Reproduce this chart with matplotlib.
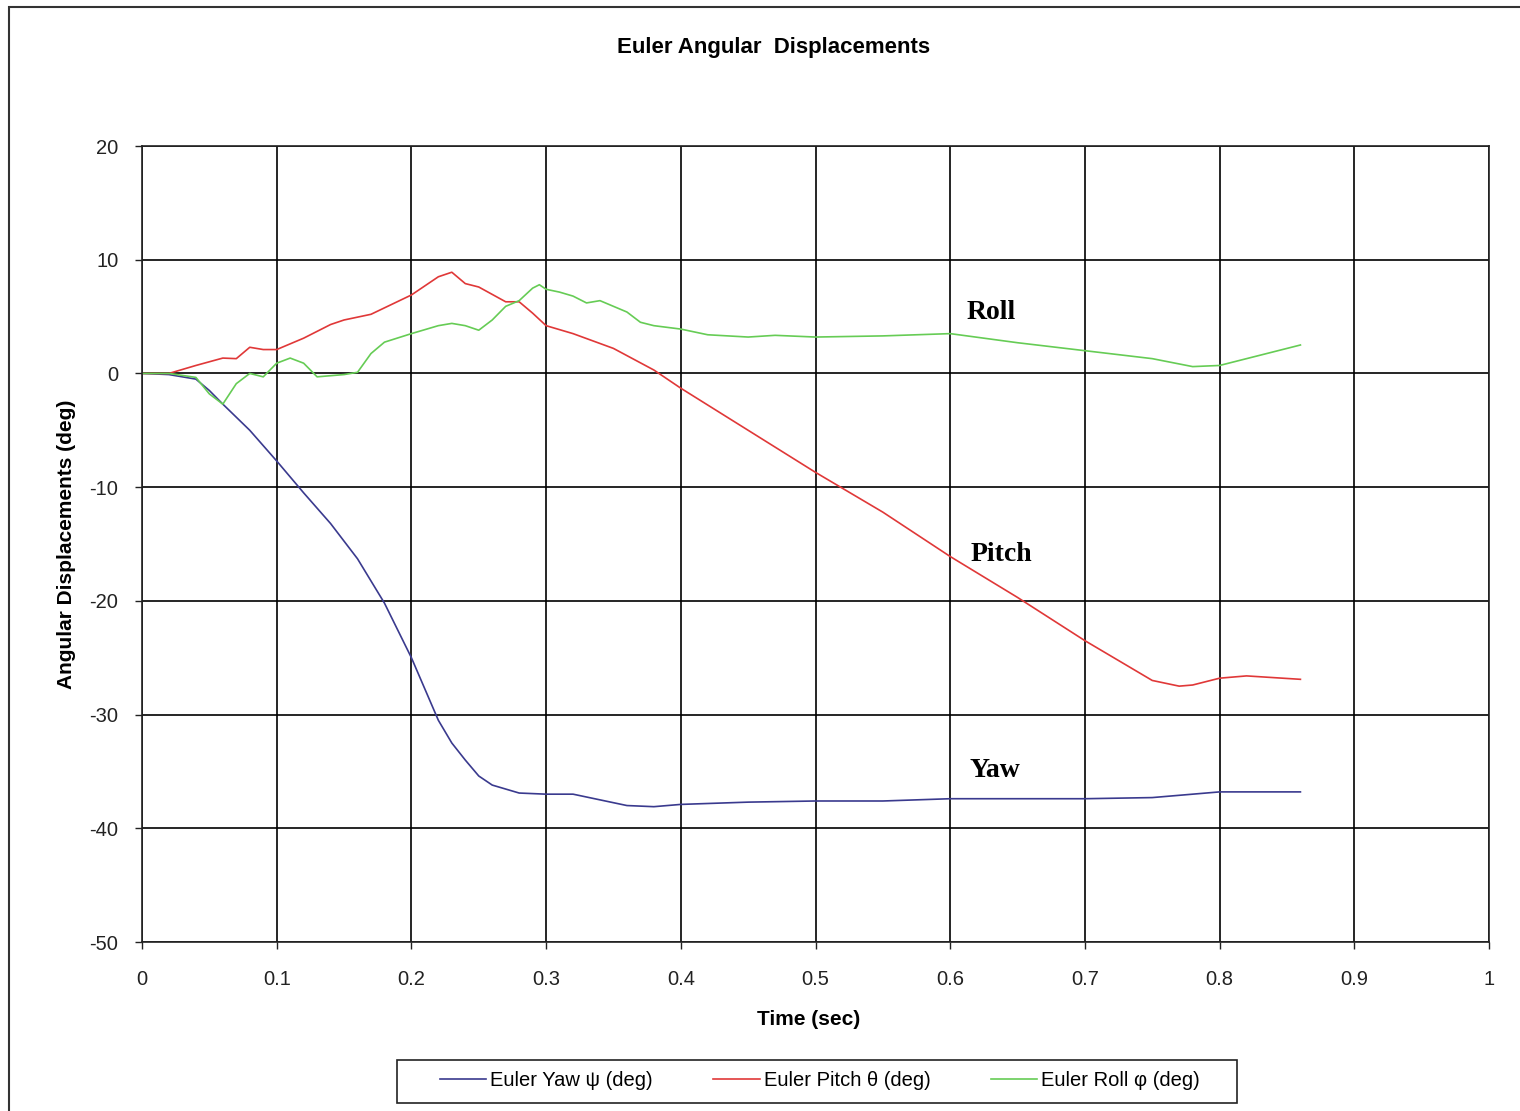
import matplotlib.pyplot as plt
from matplotlib.patches import Rectangle

plt.rcParams['font.family'] = ['Liberation Sans', 'DejaVu Sans']
plt.rcParams['axes.unicode_minus'] = False

# tiempos (s)
t_yaw = [0, 0.02, 0.04, 0.05, 0.06, 0.08, 0.10, 0.12, 0.14, 0.16, 0.18, 0.20,
         0.22, 0.23, 0.24, 0.25, 0.26, 0.28, 0.30, 0.32, 0.34, 0.36, 0.38, 0.40,
         0.45, 0.50, 0.55, 0.60, 0.65, 0.70, 0.75, 0.78, 0.80, 0.83, 0.86]
yaw = [0, -0.1, -0.5, -1.5, -2.7, -5.0, -7.7, -10.5, -13.2, -16.3, -20.2, -25.0,
       -30.5, -32.5, -34.0, -35.4, -36.2, -36.9, -37.0, -37.0, -37.5, -38.0, -38.1, -37.9,
       -37.7, -37.6, -37.6, -37.4, -37.4, -37.4, -37.3, -37.0, -36.8, -36.8, -36.8]

t_pitch = [0, 0.02, 0.04, 0.06, 0.07, 0.08, 0.09, 0.10, 0.12, 0.14, 0.15, 0.17,
           0.20, 0.22, 0.23, 0.24, 0.25, 0.27, 0.28, 0.29, 0.30, 0.32, 0.35, 0.38,
           0.40, 0.45, 0.50, 0.55, 0.60, 0.65, 0.70, 0.75, 0.77, 0.78, 0.80, 0.82, 0.86]
pitch = [0, 0, 0.7, 1.35, 1.3, 2.3, 2.1, 2.1, 3.1, 4.3, 4.7, 5.2,
         6.9, 8.5, 8.9, 7.9, 7.6, 6.3, 6.3, 5.3, 4.2, 3.5, 2.2, 0.3,
         -1.3, -5.0, -8.7, -12.2, -16.1, -19.7, -23.5, -27.0, -27.5, -27.4, -26.8, -26.6, -26.9]

t_roll = [0, 0.02, 0.04, 0.05, 0.06, 0.07, 0.08, 0.09, 0.10, 0.11, 0.12, 0.13,
          0.14, 0.15, 0.16, 0.17, 0.18, 0.20, 0.22, 0.23, 0.24, 0.25, 0.26, 0.27,
          0.28, 0.29, 0.295, 0.30, 0.31, 0.32, 0.33, 0.34, 0.36, 0.37, 0.38, 0.40,
          0.42, 0.45, 0.47, 0.50, 0.55, 0.60, 0.65, 0.70, 0.75, 0.78, 0.80, 0.82, 0.86]
roll = [0, 0, -0.35, -1.8, -2.7, -0.9, 0, -0.3, 0.9, 1.35, 0.9, -0.3,
        -0.2, -0.1, 0.1, 1.75, 2.75, 3.5, 4.2, 4.4, 4.2, 3.8, 4.7, 5.9,
        6.4, 7.5, 7.8, 7.4, 7.15, 6.8, 6.2, 6.4, 5.4, 4.5, 4.2, 3.9,
        3.4, 3.2, 3.35, 3.2, 3.3, 3.5, 2.7, 2.0, 1.3, 0.6, 0.7, 1.3, 2.5]

etiquetas = ["Euler Yaw ψ (deg)", "Euler Pitch θ (deg)", "Euler Roll φ (deg)"]
colores = ["#3a3a8e", "#e03838", "#66cc55"]

fig = plt.figure(figsize=(15.2, 11.11), dpi=100)
fig.patch.set_facecolor('white')
# marco exterior del grafico
fig.patches.append(Rectangle((9 / 1520, -0.01), 1.02, 1 - 7 / 1111 + 0.01,
                             transform=fig.transFigure, fill=False,
                             edgecolor='#333333', linewidth=1.5))

ax = fig.add_axes([142 / 1520, 1 - 942 / 1111, 1347 / 1520, 796 / 1111])
ax.plot(t_yaw, yaw, color=colores[0], lw=1.2, label=etiquetas[0])
ax.plot(t_pitch, pitch, color=colores[1], lw=1.2, label=etiquetas[1])
ax.plot(t_roll, roll, color=colores[2], lw=1.2, label=etiquetas[2])

ax.set_xlim(0, 1)
ax.set_ylim(-50, 20)
ax.set_xticks([0, 0.1, 0.2, 0.3, 0.4, 0.5, 0.6, 0.7, 0.8, 0.9, 1])
ax.set_xticklabels(['0', '0.1', '0.2', '0.3', '0.4', '0.5', '0.6', '0.7', '0.8', '0.9', '1'])
ax.set_yticks(range(-50, 21, 10))
ax.tick_params(direction='out', length=5, width=1, labelsize=14.5, colors='#222222')
ax.tick_params(axis='x', pad=15)
ax.tick_params(axis='y', pad=12)
ax.grid(True, color='black', lw=1.2)
for s in ax.spines.values():
    s.set_color('#222222')
    s.set_linewidth(1.2)

ax.set_xlabel("Time (sec)", fontsize=15, fontweight='bold', labelpad=14)
ax.xaxis.set_label_coords(0.495, -0.085)
ax.set_ylabel("Angular Displacements (deg)", fontsize=15, fontweight='bold', labelpad=10)
fig.text(774 / 1520, 1 - 47 / 1111, "Euler Angular  Displacements", fontsize=16,
         fontweight='bold', ha='center', va='center')

for txt, x, y in [("Roll", 0.612, 5.4), ("Pitch", 0.615, -15.9), ("Yaw", 0.614, -34.9)]:
    ax.text(x, y, txt, family='Liberation Serif', fontweight='bold', fontsize=20,
            ha='left', va='center')

# leyenda sin marco propio, marco dibujado aparte
fig.patches.append(Rectangle((397 / 1520, 1 - 1103 / 1111), 840 / 1520, 43 / 1111,
                             transform=fig.transFigure, fill=False,
                             edgecolor='#222222', linewidth=1.2))
fig.legend(loc='center', bbox_to_anchor=(820 / 1520, 1 - 1081 / 1111), ncol=3,
           fontsize=14.5, frameon=False, handlelength=2.3, handletextpad=0.2,
           columnspacing=3.0)

plt.savefig("out.png", dpi=100)
